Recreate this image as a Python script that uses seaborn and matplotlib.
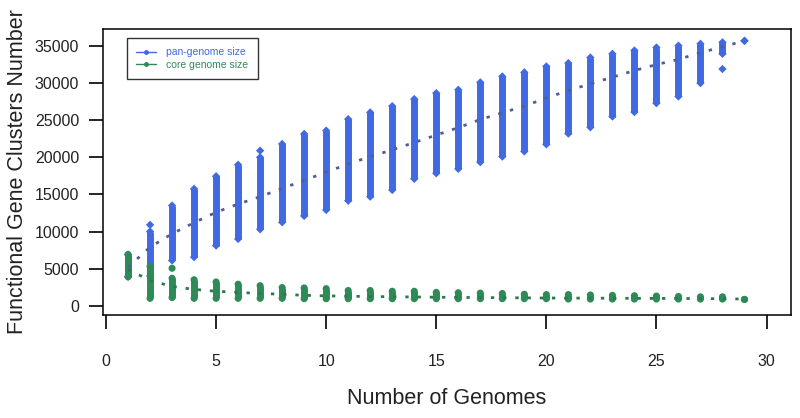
import matplotlib
matplotlib.use("Agg")
import matplotlib.pyplot as plt
from matplotlib.lines import Line2D
import seaborn as sns

# values
genomes = list(range(1, 30))

pan_min = [3900, 4000, 6100, 6550, 8100, 9000, 10300, 11250, 12100, 12900,
           14150, 14700, 15600, 17100, 17850, 18450, 19350, 20100, 20800, 21750,
           23200, 24050, 25500, 26100, 27300, 28200, 30000, 33950, 35700]
pan_max = [6900, 10000, 13500, 15750, 17450, 19000, 20000, 21800, 23150, 23600,
           25150, 26050, 26900, 27850, 28650, 29100, 30100, 30900, 31450, 32250,
           32700, 33450, 33950, 34400, 34800, 35050, 35300, 35500, 35700]
pan_mean = [5200, 7900, 9700, 11200, 12600, 13700, 14700, 15800, 16900, 18000,
            19100, 20100, 21000, 22000, 23000, 24000, 25100, 26000, 26900, 28000,
            29000, 29900, 30800, 31700, 32500, 33200, 34100, 34900, 35700]
pan_outlier_n = [2, 7, 28]
pan_outlier_v = [10900, 20900, 31900]

core_min = [3900, 1000, 1100, 1000, 1000, 1000, 1000, 1000, 950, 950,
            950, 950, 950, 950, 950, 950, 950, 950, 950, 950,
            900, 900, 900, 900, 900, 900, 900, 900, 850]
core_max = [6900, 5300, 3700, 3500, 3200, 2900, 2700, 2450, 2400, 2300,
            2050, 2050, 1950, 1950, 1800, 1750, 1700, 1650, 1550, 1500,
            1500, 1450, 1400, 1350, 1300, 1250, 1200, 1200, 850]
core_mean = [4900, 3400, 2600, 2200, 1950, 1800, 1650, 1550, 1400, 1330,
             1280, 1240, 1210, 1180, 1150, 1120, 1100, 1080, 1060, 1040,
             1030, 1020, 1010, 1000, 990, 980, 960, 940, 900]
core_outlier_n = [3]
core_outlier_v = [5050]

x_ticks = [0, 5, 10, 15, 20, 25, 30]
y_ticks = [0, 5000, 10000, 15000, 20000, 25000, 30000, 35000]

PAN = "#4169e1"
PAN_LINE = "#4f5f96"
CORE = "#2e8b57"
CORE_LINE = "#2a7a4c"

sns.set_style("white")
plt.rcParams["font.family"] = ["Liberation Sans", "DejaVu Sans"]

fig = plt.figure(figsize=(8, 4.18), dpi=100)
ax = fig.add_axes([0.1284, 0.2464, 0.86, 0.6854])

# pan-genome columns
ax.vlines(genomes, pan_min, pan_max, color=PAN, lw=5.0, zorder=2)
sns.scatterplot(x=genomes + genomes + pan_outlier_n,
                y=pan_min + pan_max + pan_outlier_v,
                marker="D", s=18, color=PAN, edgecolor="none", ax=ax, zorder=2)

# core genome columns
ax.vlines(genomes, core_min, core_max, color=CORE, lw=5.0, zorder=3)
sns.scatterplot(x=genomes + genomes + core_outlier_n,
                y=core_min + core_max + core_outlier_v,
                marker="o", s=26, color=CORE, edgecolor="none", ax=ax, zorder=3)

# mean curves
sns.lineplot(x=genomes, y=pan_mean, color=PAN_LINE, lw=2,
             linestyle=(0, (1.2, 3.2)), ax=ax, zorder=4)
sns.lineplot(x=genomes, y=core_mean, color=CORE_LINE, lw=2,
             linestyle=(0, (1.2, 3.2)), ax=ax, zorder=4)

ax.set_xlim(-0.15, 31.1)
ax.set_ylim(-1250, 37360)
ax.set_xticks(x_ticks)
ax.set_yticks(y_ticks)
ax.tick_params(axis="both", direction="out", length=10, width=1.2,
               color="black", labelsize=11.5, labelcolor="#222222",
               bottom=True, left=True)
ax.tick_params(axis="x", pad=18)
ax.tick_params(axis="y", pad=7)
for s in ax.spines.values():
    s.set_color("black")
    s.set_linewidth(1.1)

ax.set_xlabel("Number of Genomes", fontsize=15.5, labelpad=14, color="#222222")
ax.set_ylabel("Functional Gene Clusters Number", fontsize=15.5, labelpad=5,
              color="#222222")

handles = [
    Line2D([0], [0], color=PAN, marker="o", ms=2.5, lw=1),
    Line2D([0], [0], color=CORE, marker="o", ms=2.5, lw=1),
]
leg = ax.legend(handles, ["pan-genome size", "core genome size"],
                loc="upper left", bbox_to_anchor=(0.035, 0.967),
                fontsize=7.5, labelcolor=[PAN, CORE], frameon=True,
                fancybox=False, edgecolor="black", borderpad=0.9,
                labelspacing=0.25, handlelength=1.9, handletextpad=1.0,
                borderaxespad=0)
leg.get_frame().set_linewidth(1.0)

fig.savefig("out.png", dpi=100)
